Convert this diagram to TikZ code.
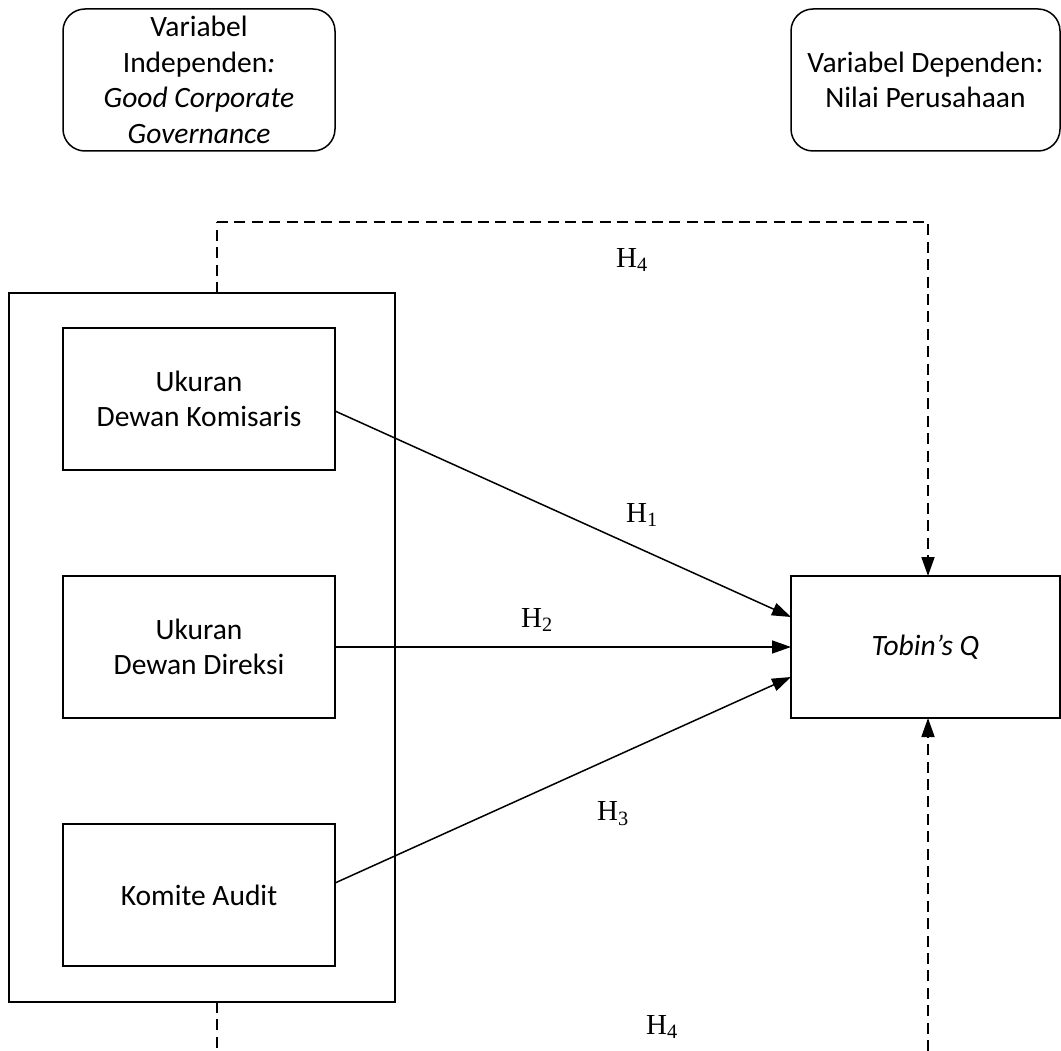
\documentclass[tikz,border=0pt]{standalone}
\usepackage{fontspec}
\setmainfont{Carlito}
\newfontfamily\tnr{Liberation Serif}
\usetikzlibrary{arrows.meta}
\tikzset{
  every node/.style={inner sep=0pt, outer sep=0pt},
  box/.style={draw, line width=1.5pt, minimum width=272pt, minimum height=142pt,
    align=center, font=\fontsize{29.5}{35.5}\selectfont},
  roundbox/.style={box, rounded corners=22pt},
  outerbox/.style={draw, line width=1.5pt, minimum width=386pt, minimum height=709pt},
  hlabel/.style={font=\tnr\fontsize{29}{29}\selectfont},
  conn/.style={line width=1.5pt, -{Triangle[length=19pt,width=13pt]}},
  dashline/.style={line width=1.8pt, dash pattern=on 11pt off 6.4pt},
}
\begin{document}
\begin{tikzpicture}[x=1pt,y=-1pt]
\useasboundingbox (0,0) rectangle (1061,1051);
% top legend boxes
\node[roundbox] (indep) at (199,80) {Variabel\\Independen\textit{:}\\\textit{Good Corporate}\\\textit{Governance}};
\node[roundbox, minimum width=269pt] (dep) at (925.5,80) {Variabel Dependen:\\Nilai Perusahaan};
% outer group
\node[outerbox] (outer) at (202,647.5) {};
\node[box] (b1) at (199,399) {Ukuran\\Dewan Komisaris};
\node[box] (b2) at (199,647) {Ukuran\\Dewan Direksi};
\node[box] (b3) at (199,895) {Komite Audit};
% dependent
\node[box, minimum width=269pt] (tq) at (925.5,647) {\textit{Tobin’s Q}};
% arrows
\draw[conn] ([yshift=-12pt]b1.east) -- ([yshift=30pt]tq.west);
\draw[conn] (b2.east) -- (tq.west);
\draw[conn] ([yshift=12pt]b3.east) -- ([yshift=-30pt]tq.west);
% dashed H4 paths
\coordinate (topturn) at (217,222);
\draw[dashline] ([xshift=15pt]outer.north) -- (topturn);
\draw[dashline, -{Triangle[length=19pt,width=13pt]}] (topturn) -| ([xshift=2.5pt]tq.north);
\coordinate (botL) at (217,1051);
\coordinate (botR) at (928,1051);
\draw[dashline] ([xshift=15pt]outer.south) -- (botL);
\draw[dashline, -{Triangle[length=19pt,width=13pt]}] (botR) -- ([xshift=2.5pt]tq.south);
% labels
\node[hlabel] (h4t) at (632,260) {H\textsubscript{4}};
\node[hlabel] (h1) at (642,515) {H\textsubscript{1}};
\node[hlabel] (h2) at (537,620) {H\textsubscript{2}};
\node[hlabel] (h3) at (613,814) {H\textsubscript{3}};
\node[hlabel] (h4b) at (662,1027) {H\textsubscript{4}};
\end{tikzpicture}
\end{document}
